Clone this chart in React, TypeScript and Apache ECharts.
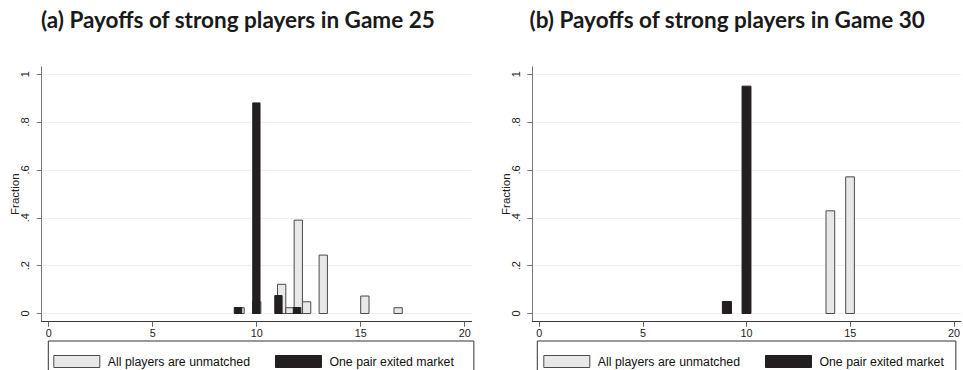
import React, { useEffect, useRef } from 'react';
import * as echarts from 'echarts';

// Payoff histograms of strong players, two games side by side.
// Each bin is stored by its lower edge, upper edge and fraction.

// (a) Game 25 — all players are unmatched
const unmatchedLowA = [9.0, 9.8, 11.0, 11.4, 11.8, 12.2, 13.0, 15.0, 16.6];
const unmatchedHighA = [9.4, 10.2, 11.4, 11.8, 12.2, 12.6, 13.4, 15.4, 17.0];
const unmatchedFracA = [0.024, 0.049, 0.122, 0.024, 0.39, 0.049, 0.244, 0.073, 0.024];

// (a) Game 25 — one pair exited market
const exitedLowA = [8.92, 9.81, 10.87, 11.76];
const exitedHighA = [9.28, 10.16, 11.22, 12.12];
const exitedFracA = [0.025, 0.88, 0.075, 0.025];

// (b) Game 30 — all players are unmatched
const unmatchedLowB = [13.83, 14.78];
const unmatchedHighB = [14.25, 15.2];
const unmatchedFracB = [0.429, 0.571];

// (b) Game 30 — one pair exited market
const exitedLowB = [8.83, 9.78];
const exitedHighB = [9.27, 10.21];
const exitedFracB = [0.05, 0.95];

const xTicks = [0, 5, 10, 15, 20];
const yTicks = [0, 0.2, 0.4, 0.6, 0.8, 1];

const titles = [
  '(a) Payoffs of strong players in Game 25',
  '(b) Payoffs of strong players in Game 30',
];
const seriesNames = ['All players are unmatched', 'One pair exited market'];

const LIGHT_FILL = '#e8e8e8';
const LIGHT_EDGE = '#4a4a4a';
const DARK_FILL = '#231f20';
const DARK_EDGE = '#231f20';
const SANS = "'Liberation Sans', Arial, sans-serif";

// Plot regions: the axes span a little beyond 0–20 and 0–1.
const X_PAD = 0.337;
const Y_MIN = -0.0343;
const Y_MAX = 1.0313;
const panels = [
  { left: 41.7, width: 430, titleLeft: 41, legendLeft: 48.3, legendPad: [14, 20, 14, 5] },
  { left: 532.3, width: 428.6, titleLeft: 529.5, legendLeft: 537.3, legendPad: [14, 12, 14, 6] },
];
const GRID_TOP = 66.7;
const GRID_HEIGHT = 255;

function yLabel(v: number): string {
  if (v === 0) return '0';
  if (v === 1) return '1';
  return String(Math.round(v * 10) / 10).replace(/^0/, '');
}

function histSeries(
  name: string,
  lows: number[],
  highs: number[],
  fracs: number[],
  fill: string,
  stroke: string,
  idx: number
) {
  return {
    type: 'custom',
    name,
    xAxisIndex: idx,
    yAxisIndex: idx,
    data: lows.map((lo, i) => [lo, highs[i], fracs[i]]),
    encode: { x: [0, 1], y: 2 },
    itemStyle: { color: fill, borderColor: stroke },
    renderItem: (_params: any, api: any) => {
      const base = api.coord([api.value(0), 0]);
      const top = api.coord([api.value(1), api.value(2)]);
      return {
        type: 'rect',
        shape: {
          x: base[0],
          y: top[1],
          width: top[0] - base[0],
          height: base[1] - top[1],
        },
        style: { fill, stroke, lineWidth: 1 },
      };
    },
  };
}

export default function App() {
  const ref = useRef<HTMLDivElement>(null);

  useEffect(() => {
    if (!ref.current) return;
    const chart = echarts.init(ref.current, undefined, { renderer: 'svg' });

    const grid = panels.map((p) => ({
      left: p.left,
      top: GRID_TOP,
      width: p.width,
      height: GRID_HEIGHT,
      containLabel: false,
      outerBoundsMode: 'none',
    }));

    const xAxis = panels.map((_, i) => ({
      type: 'value',
      gridIndex: i,
      min: -X_PAD,
      max: 20 + X_PAD,
      axisLine: { show: true, onZero: false, lineStyle: { color: '#3a3a3a', width: 1 } },
      axisTick: { show: true, customValues: xTicks, length: 5, lineStyle: { color: '#666' } },
      axisLabel: {
        customValues: xTicks,
        fontSize: 10.8,
        fontFamily: SANS,
        color: '#222',
        margin: 6,
      },
      splitLine: { show: false },
    }));

    const yAxis = panels.map((_, i) => ({
      type: 'value',
      gridIndex: i,
      min: Y_MIN,
      max: Y_MAX,
      name: 'Fraction',
      nameLocation: 'middle',
      nameGap: 26.5,
      nameMoveOverlap: false,
      nameTextStyle: {
        fontSize: 11.5,
        fontFamily: SANS,
        color: '#222',
        align: 'center',
        verticalAlign: 'middle',
      },
      axisLine: { show: true, onZero: false, lineStyle: { color: '#777', width: 1 } },
      axisTick: { show: true, customValues: yTicks, length: 5, lineStyle: { color: '#777' } },
      axisLabel: {
        customValues: yTicks,
        rotate: 90,
        formatter: (v: number) => yLabel(v),
        fontSize: 11,
        fontFamily: SANS,
        color: '#222',
        align: 'center',
        verticalAlign: 'middle',
        margin: 16.4,
      },
      splitLine: { show: true, lineStyle: { color: '#efefef', width: 1 } },
    }));

    const legendData = [
      {
        name: seriesNames[0],
        itemStyle: { color: LIGHT_FILL, borderColor: LIGHT_EDGE, borderWidth: 1 },
      },
      {
        name: seriesNames[1],
        itemStyle: { color: DARK_FILL, borderColor: DARK_EDGE, borderWidth: 1 },
      },
    ];

    const legend = panels.map((p) => ({
      left: p.legendLeft,
      top: 341,
      orient: 'horizontal',
      icon: 'rect',
      itemWidth: 46,
      itemHeight: 12,
      itemGap: 25,
      padding: p.legendPad,
      borderColor: '#333',
      borderWidth: 1,
      selectedMode: false,
      textStyle: { fontSize: 12.3, fontFamily: SANS, color: '#111', padding: [0, 0, 0, 3] },
      data: legendData,
    }));

    const title = panels.map((p, i) => ({
      text: titles[i],
      left: p.titleLeft,
      top: 8,
      padding: 0,
      textStyle: { fontFamily: 'Lato', fontWeight: 'bold', fontSize: 22.5, color: '#1a1a1a' },
    }));

    chart.setOption({
      animation: false,
      backgroundColor: '#ffffff',
      title,
      grid,
      xAxis,
      yAxis,
      legend,
      series: [
        histSeries(seriesNames[0], unmatchedLowA, unmatchedHighA, unmatchedFracA, LIGHT_FILL, LIGHT_EDGE, 0),
        histSeries(seriesNames[1], exitedLowA, exitedHighA, exitedFracA, DARK_FILL, DARK_EDGE, 0),
        histSeries(seriesNames[0], unmatchedLowB, unmatchedHighB, unmatchedFracB, LIGHT_FILL, LIGHT_EDGE, 1),
        histSeries(seriesNames[1], exitedLowB, exitedHighB, exitedFracB, DARK_FILL, DARK_EDGE, 1),
      ],
    });

    return () => chart.dispose();
  }, []);

  return (
    <div
      ref={ref}
      style={{ position: 'fixed', left: 0, top: 0, width: 963, height: 370, background: '#fff' }}
    />
  );
}
